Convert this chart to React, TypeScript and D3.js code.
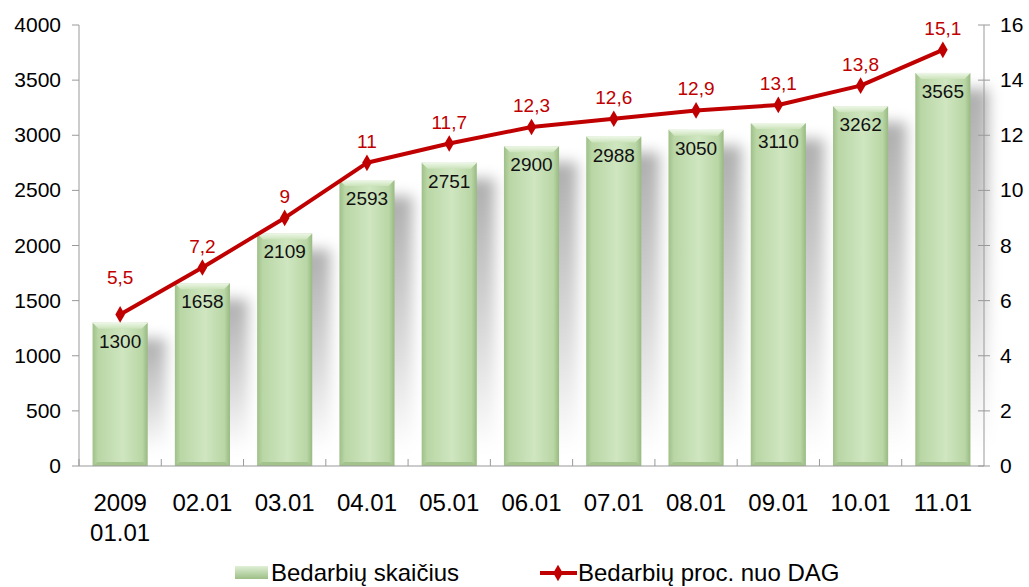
import React from "react";
import * as d3 from "d3";

const categories = ["2009\n01.01", "02.01", "03.01", "04.01", "05.01", "06.01", "07.01", "08.01", "09.01", "10.01", "11.01"];
const unemployed = [1300, 1658, 2109, 2593, 2751, 2900, 2988, 3050, 3110, 3262, 3565];
const percent = [5.5, 7.2, 9, 11, 11.7, 12.3, 12.6, 12.9, 13.1, 13.8, 15.1];
const leftTicks = [0, 500, 1000, 1500, 2000, 2500, 3000, 3500, 4000];
const rightTicks = [0, 2, 4, 6, 8, 10, 12, 14, 16];
const seriesNames = ["Bedarbių skaičius", "Bedarbių proc. nuo DAG"];

const W = 1029, H = 587;
const m = { left: 79, right: 984, top: 25, bottom: 466 };
const FONT = "'Liberation Sans', Arial, sans-serif";
const RED = "#c00000";

export default function App() {
  const x = d3.scaleBand<string>().domain(categories).range([m.left, m.right]).paddingInner(0.33).paddingOuter(0.165);
  const y = d3.scaleLinear().domain([0, 4000]).range([m.bottom, m.top]);
  const y2 = d3.scaleLinear().domain([0, 16]).range([m.bottom, m.top]);
  const step = (m.right - m.left) / categories.length;
  const cx = (c: string) => (x(c) as number) + x.bandwidth() / 2;
  const line = d3.line<number>().x((_, i) => cx(categories[i])).y((d) => y2(d));
  const fmt = (v: number) => String(v).replace(".", ",");
  const bw = x.bandwidth();

  return (
    <svg width={W} height={H} style={{ display: "block", position: "absolute", left: 0, top: 0 }}>
      <defs>
        <linearGradient id="barH" x1="0" x2="1" y1="0" y2="0">
          <stop offset="0" stopColor="#9fc089" />
          <stop offset="0.1" stopColor="#b9d6a5" />
          <stop offset="0.55" stopColor="#cfe6c0" />
          <stop offset="0.9" stopColor="#b9d6a5" />
          <stop offset="1" stopColor="#98ba82" />
        </linearGradient>
        <linearGradient id="barTop" x1="0" x2="0" y1="0" y2="1">
          <stop offset="0" stopColor="#eef7e8" />
          <stop offset="1" stopColor="#cbe3ba" />
        </linearGradient>
        <linearGradient id="shadowG" x1="0" x2="0" y1="0" y2="1">
          <stop offset="0" stopColor="#000" stopOpacity="0.32" />
          <stop offset="0.6" stopColor="#000" stopOpacity="0.14" />
          <stop offset="1" stopColor="#000" stopOpacity="0.0" />
        </linearGradient>
        <filter id="blur" x="-50%" y="-50%" width="200%" height="200%">
          <feGaussianBlur stdDeviation="7" />
        </filter>
        <linearGradient id="legG" x1="0" x2="0" y1="0" y2="1">
          <stop offset="0" stopColor="#e0f0d6" />
          <stop offset="1" stopColor="#9cbf86" />
        </linearGradient>
      </defs>

      {/* shadows */}
      {unemployed.map((v, i) => {
        const c = categories[i];
        const x0 = x(c) as number;
        return (
          <rect key={"s" + i} x={x0 + 18} y={y(v) + 16} width={bw} height={Math.max(0, m.bottom - y(v) - 30)}
            fill="url(#shadowG)" filter="url(#blur)" />
        );
      })}

      {/* bars */}
      {unemployed.map((v, i) => {
        const c = categories[i];
        const x0 = x(c) as number;
        const yt = y(v);
        const h = m.bottom - yt;
        return (
          <g key={"b" + i}>
            <rect x={x0} y={yt} width={bw} height={h} fill="url(#barH)" />
            <polygon points={`${x0},${yt} ${x0 + bw},${yt} ${x0 + bw - 6},${yt + 6} ${x0 + 6},${yt + 6}`} fill="url(#barTop)" />
            <polygon points={`${x0},${m.bottom} ${x0 + bw},${m.bottom} ${x0 + bw - 5},${m.bottom - 4} ${x0 + 5},${m.bottom - 4}`} fill="#a3c38d" />
            <text x={cx(c)} y={yt + 25} textAnchor="middle" fontFamily={FONT} fontSize={19} fill="#111">{v}</text>
          </g>
        );
      })}

      {/* axes */}
      <g stroke="#999" strokeWidth={1} fill="none">
        <line x1={m.left} x2={m.left} y1={m.top} y2={m.bottom} />
        <line x1={m.right} x2={m.right} y1={m.top} y2={m.bottom} />
        <line x1={m.left} x2={m.right} y1={m.bottom} y2={m.bottom} />
        {leftTicks.map((t) => <line key={"lt" + t} x1={m.left - 7} x2={m.left} y1={y(t)} y2={y(t)} />)}
        {rightTicks.map((t) => <line key={"rt" + t} x1={m.right - 6} x2={m.right + 6} y1={y2(t)} y2={y2(t)} />)}
        {categories.map((c, i) => (
          <line key={"xt" + i} x1={m.left + step * i} x2={m.left + step * i} y1={m.bottom} y2={m.bottom - 7} />
        ))}
      </g>
      {leftTicks.map((t) => (
        <text key={"ll" + t} x={61} y={y(t) + 7} textAnchor="end" fontFamily={FONT} fontSize={21} fill="#000">{t}</text>
      ))}
      {rightTicks.map((t) => (
        <text key={"rl" + t} x={1000} y={y2(t) + 7} textAnchor="start" fontFamily={FONT} fontSize={21} fill="#000">{t}</text>
      ))}
      {categories.map((c, i) => (
        <text key={"xl" + i} x={cx(c)} y={511} textAnchor="middle" fontFamily={FONT} fontSize={24} fill="#000">
          {c.split("\n").map((p, j) => (
            <tspan key={j} x={cx(c)} dy={j === 0 ? 0 : 30}>{p}</tspan>
          ))}
        </text>
      ))}

      {/* line */}
      <path d={line(percent) || ""} fill="none" stroke={RED} strokeWidth={4} strokeLinejoin="round" />
      {percent.map((v, i) => {
        const px = cx(categories[i]);
        const py = y2(v);
        return (
          <g key={"p" + i}>
            <path d={d3.symbol(d3.symbolDiamond, 80)() || ""} transform={`translate(${px},${py})`} fill={RED} />
            <text x={px} y={py - (i === 0 ? 30 : 15)} textAnchor="middle" fontFamily={FONT} fontSize={19} fill={RED}>{fmt(v)}</text>
          </g>
        );
      })}

      {/* legend */}
      <rect x={235} y={566} width={33} height={13} fill="url(#legG)" />
      <text x={271} y={581} fontFamily={FONT} fontSize={24} fill="#000">{seriesNames[0]}</text>
      <line x1={540} x2={577} y1={573} y2={573} stroke={RED} strokeWidth={4} />
      <path d={d3.symbol(d3.symbolDiamond, 80)() || ""} transform={`translate(558,573)`} fill={RED} />
      <text x={578} y={581} fontFamily={FONT} fontSize={24} fill="#000">{seriesNames[1]}</text>
    </svg>
  );
}
